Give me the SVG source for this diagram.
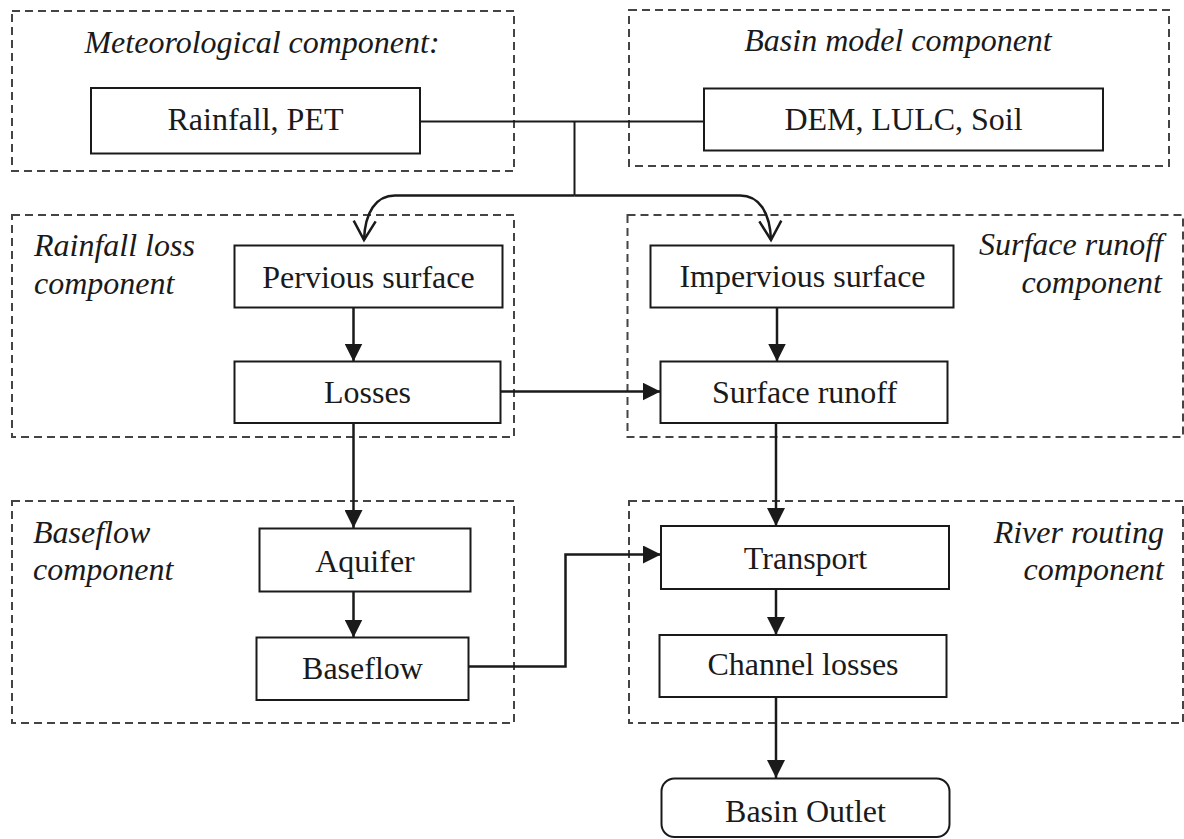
<svg xmlns="http://www.w3.org/2000/svg" width="1184" height="839" viewBox="0 0 1184 839">
<style>
.grp{fill:none;stroke:#444;stroke-width:2;stroke-dasharray:8 5}
.box{fill:#fff;stroke:#1a1a1a;stroke-width:2}
.lbl{font-family:"Liberation Serif","Times New Roman",serif;font-size:32px;fill:#1a1a1a;text-anchor:middle}
.ttl{font-family:"Liberation Serif","Times New Roman",serif;font-size:32px;font-style:italic;fill:#1a1a1a}
.ln{fill:none;stroke:#1a1a1a;stroke-width:2}
.ar{fill:none;stroke:#1a1a1a;stroke-width:2.5}
</style>
<defs>
<marker id="fill" markerUnits="userSpaceOnUse" markerWidth="18" markerHeight="18" viewBox="0 0 18 18" refX="18" refY="9" orient="auto">
<path d="M0,0 L18,9 L0,18 z" fill="#1a1a1a"/>
</marker>
<marker id="open" markerUnits="userSpaceOnUse" markerWidth="24" markerHeight="26" viewBox="0 0 24 26" refX="21" refY="13" orient="auto">
<path d="M2,2 L21,13 L2,24" fill="none" stroke="#1a1a1a" stroke-width="2.5"/>
</marker>
</defs>
<rect width="1184" height="839" fill="#fff"/>

<g id="groups">
<g id="g-met"><rect class="grp" x="12" y="11" width="502" height="160"/>
<text class="ttl" x="262" y="53" text-anchor="middle">Meteorological component:</text></g>
<g id="g-basin"><rect class="grp" x="629" y="10" width="540" height="156"/>
<text class="ttl" x="898" y="51" text-anchor="middle">Basin model component</text></g>
<g id="g-loss"><rect class="grp" x="12" y="215" width="502" height="222"/>
<text class="ttl" x="34" y="256">Rainfall loss</text>
<text class="ttl" x="34" y="294">component</text></g>
<g id="g-surf"><rect class="grp" x="627.5" y="215" width="555.5" height="222"/>
<text class="ttl" x="1163" y="255" text-anchor="end">Surface runoff</text>
<text class="ttl" x="1162" y="293" text-anchor="end">component</text></g>
<g id="g-base"><rect class="grp" x="12" y="501" width="502" height="222"/>
<text class="ttl" x="33" y="543">Baseflow</text>
<text class="ttl" x="33" y="580">component</text></g>
<g id="g-river"><rect class="grp" x="629" y="501" width="554" height="222"/>
<text class="ttl" x="1164" y="543" text-anchor="end">River routing</text>
<text class="ttl" x="1164" y="580" text-anchor="end">component</text></g>
</g>

<g id="connectors">
<path class="ln" d="M420,121.5 L704,121.5"/>
<path class="ln" d="M574.5,121.5 L574.5,195.5"/>
<path class="ar" d="M574.5,195.5 L395,195.5 C376,195.5 365,212 364,240" marker-end="url(#open)"/>
<path class="ar" d="M574.5,195.5 L740,195.5 C759,195.5 770,212 771,240" marker-end="url(#open)"/>
<path class="ar" d="M353.5,307.5 L353.5,361.5" marker-end="url(#fill)"/>
<path class="ar" d="M777,307.5 L777,361.5" marker-end="url(#fill)"/>
<path class="ar" d="M500.5,391.5 L660.5,391.5" marker-end="url(#fill)"/>
<path class="ar" d="M353.5,423 L353.5,528" marker-end="url(#fill)"/>
<path class="ar" d="M776,423 L776,526" marker-end="url(#fill)"/>
<path class="ar" d="M353.5,591.5 L353.5,637.5" marker-end="url(#fill)"/>
<path class="ar" d="M468,666.5 L565.5,666.5 L565.5,554.5 L661,554.5" marker-end="url(#fill)"/>
<path class="ar" d="M776,589 L776,635" marker-end="url(#fill)"/>
<path class="ar" d="M776,697 L776,778" marker-end="url(#fill)"/>
</g>

<g id="n-rain"><rect class="box" x="91" y="88" width="329" height="65.5"/><text class="lbl" x="255.5" y="130">Rainfall, PET</text></g>
<g id="n-dem"><rect class="box" x="704" y="88.5" width="399" height="62"/><text class="lbl" x="903.5" y="130">DEM, LULC, Soil</text></g>
<g id="n-perv"><rect class="box" x="234.5" y="245.5" width="268" height="62"/><text class="lbl" x="368.5" y="287.5">Pervious surface</text></g>
<g id="n-losses"><rect class="box" x="234.5" y="361.5" width="266" height="61.5"/><text class="lbl" x="367.5" y="402.5">Losses</text></g>
<g id="n-imperv"><rect class="box" x="650.5" y="245.5" width="303" height="62"/><text class="lbl" x="802.5" y="287">Impervious surface</text></g>
<g id="n-surf"><rect class="box" x="660.5" y="361.5" width="287" height="61.5"/><text class="lbl" x="804.5" y="402.5">Surface runoff</text></g>
<g id="n-aquifer"><rect class="box" x="259.5" y="528.5" width="211" height="63"/><text class="lbl" x="365" y="571.5">Aquifer</text></g>
<g id="n-baseflow"><rect class="box" x="256.5" y="637.5" width="212" height="62.5"/><text class="lbl" x="362.5" y="678.5">Baseflow</text></g>
<g id="n-transport"><rect class="box" x="661" y="526" width="288" height="63"/><text class="lbl" x="805.5" y="568.5">Transport</text></g>
<g id="n-channel"><rect class="box" x="659.5" y="635" width="287" height="62"/><text class="lbl" x="803" y="675">Channel losses</text></g>
<g id="n-outlet"><rect class="box" x="661.5" y="778.5" width="288" height="58.5" rx="13" ry="13"/><text class="lbl" x="805.5" y="821.5">Basin Outlet</text></g>
</svg>
